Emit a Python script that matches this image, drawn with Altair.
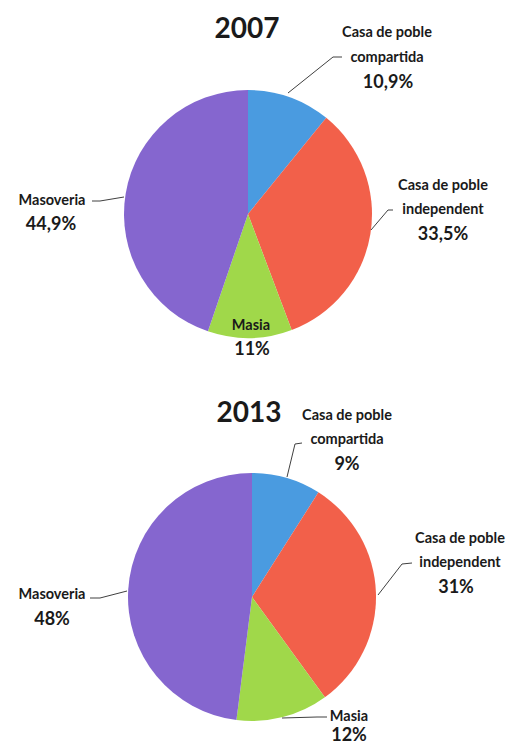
import altair as alt
import pandas as pd

# ---- data ----
categories = ["Casa de poble compartida", "Casa de poble independent", "Masia", "Masoveria"]
years = ["2007", "2013"]
values_2007 = [10.9, 33.5, 11.0, 44.9]
values_2013 = [9, 31, 12, 48]
pct_2007 = ["10,9%", "33,5%", "11%", "44,9%"]
pct_2013 = ["9%", "31%", "12%", "48%"]
name_lines = {
    "Casa de poble compartida": ["Casa de poble", "compartida"],
    "Casa de poble independent": ["Casa de poble", "independent"],
    "Masia": ["Masia"],
    "Masoveria": ["Masoveria"],
}

# ---- style / layout ----
colors = ["#4a9be0", "#f2604a", "#a0d84a", "#8566cf"]
FONT = "Lato"
OFF = 8  # page margin
R = 124
W, H = 498, 738
centers = {"2007": (248, 214), "2013": (252, 597)}
title_pos = {"2007": (247, 38), "2013": (249, 422)}
# (year, category): (center x, [name baselines], pct x, pct baseline)
label_pos = {
    ("2007", categories[0]): (387, [37, 62], 388, 88),
    ("2007", categories[1]): (443, [190, 214], 443, 240),
    ("2007", categories[2]): (251, [330], 252, 355),
    ("2007", categories[3]): (52, [205], 51, 230),
    ("2013", categories[0]): (347, [420, 444], 347, 470),
    ("2013", categories[1]): (460, [543, 567], 456, 593),
    ("2013", categories[2]): (349, [721], 349, 741),
    ("2013", categories[3]): (52, [599], 52, 625),
}
leaders = [
    ("2007", categories[0], [(342, 57), (333, 57), (288, 93)]),
    ("2007", categories[1], [(393, 210), (388, 210), (371, 230)]),
    ("2007", categories[3], [(92, 201), (100, 201), (124, 197)]),
    ("2013", categories[0], [(302, 443), (295, 444), (287, 477)]),
    ("2013", categories[1], [(412, 563), (402, 564), (378, 595)]),
    ("2013", categories[3], [(90, 598), (100, 598), (127, 591)]),
    ("2013", categories[2], [(327, 717), (317, 717), (282, 718)]),
]

values = {"2007": values_2007, "2013": values_2013}
pcts = {"2007": pct_2007, "2013": pct_2013}

color_scale = alt.Scale(domain=categories, range=colors)


def pie_layer(year):
    df = pd.DataFrame({"category": categories, "value": values[year],
                       "idx": list(range(len(categories)))})
    cx, cy = centers[year]
    return alt.Chart(df).mark_arc(radius=R).encode(
        theta=alt.Theta("value:Q", stack=True),
        color=alt.Color("category:N", scale=color_scale, legend=None),
        order=alt.Order("idx:Q"),
        x=alt.value(cx - OFF),
        y=alt.value(cy - OFF),
    )


name_rows, pct_rows, title_rows, line_rows = [], [], [], []
for y in years:
    tx, ty = title_pos[y]
    title_rows.append({"x": tx - OFF, "y": ty - OFF, "t": y})
    for i, c in enumerate(categories):
        lx, bases, px, pb = label_pos[(y, c)]
        for txt, b in zip(name_lines[c], bases):
            name_rows.append({"x": lx - OFF, "y": b - OFF, "t": txt})
        pct_rows.append({"x": px - OFF, "y": pb - OFF, "t": pcts[y][i]})
for k, (y, c, pts) in enumerate(leaders):
    for j, (px, py) in enumerate(pts):
        line_rows.append({"id": k, "o": j, "x": px - OFF, "y": py - OFF})

X = alt.X("x:Q", scale=None, axis=None)
Y = alt.Y("y:Q", scale=None, axis=None)


def text_layer(rows, size):
    return alt.Chart(pd.DataFrame(rows)).mark_text(
        font=FONT, fontWeight="bold", fontSize=size, align="center",
        baseline="alphabetic", color="#1a1a1a"
    ).encode(x=X, y=Y, text="t:N")


lines = alt.Chart(pd.DataFrame(line_rows)).mark_line(
    color="#404040", strokeWidth=1
).encode(x=X, y=Y, detail="id:N", order="o:Q")

chart = alt.layer(
    pie_layer("2007"),
    pie_layer("2013"),
    lines,
    text_layer(title_rows, 28),
    text_layer(name_rows, 14.5),
    text_layer(pct_rows, 18),
).resolve_scale(theta="independent").properties(
    width=W, height=H, padding=0, autosize=alt.AutoSizeParams(type="none")
).configure_view(stroke="transparent", strokeWidth=0)

chart.save("out.html", embed_options={"renderer": "svg", "actions": False})
